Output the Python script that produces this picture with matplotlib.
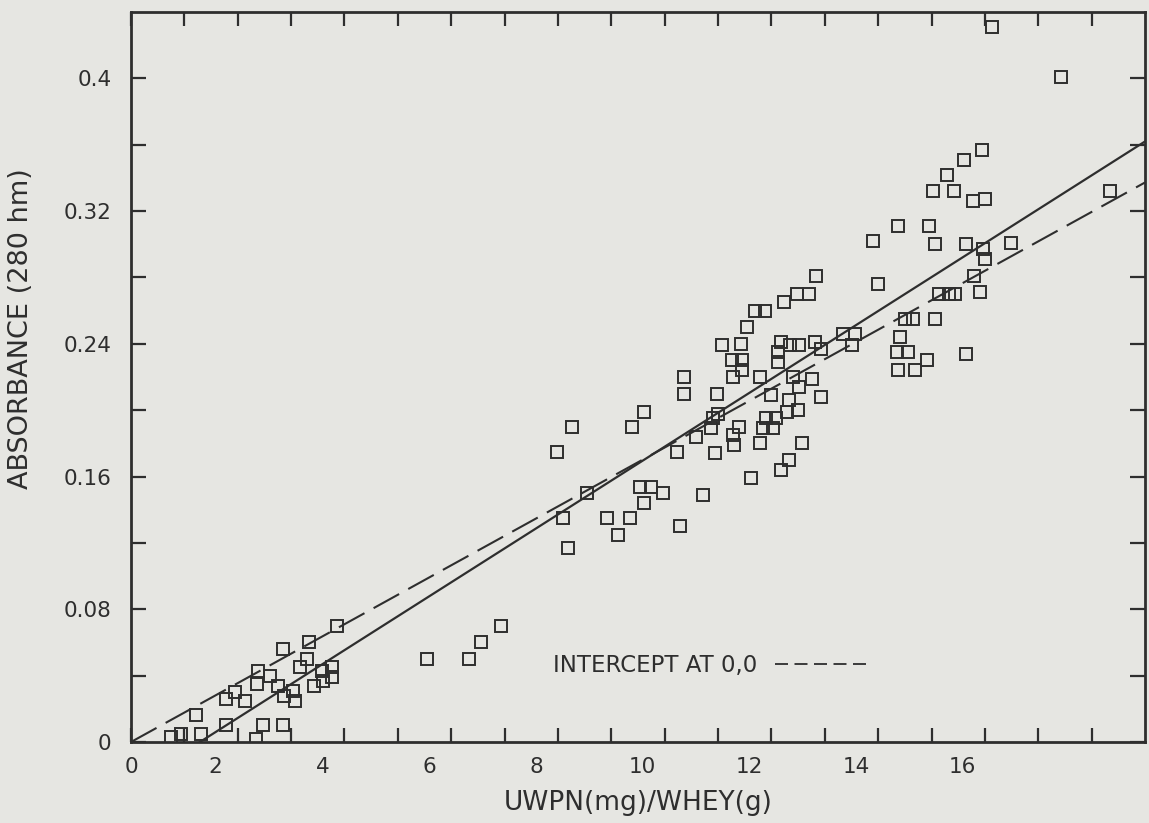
import numpy as np
import matplotlib
matplotlib.use('Agg')
import matplotlib.pyplot as plt
from matplotlib.lines import Line2D
from matplotlib.transforms import ScaledTranslation

# points: UWPN(mg)/WHEY(g) against absorbance at 280
uwpn = [16.13, 17.43, 15.95, 15.61, 15.29, 15.03, 15.42, 15.78, 16.00, 18.34,
        14.37, 14.95, 13.90, 15.06, 15.65, 15.96, 16.49, 16.00, 12.83, 14.00,
        15.80, 12.48, 12.70, 12.24, 15.14, 15.33, 15.44, 15.91,
        11.69, 11.88, 11.54, 11.07, 11.43, 12.18, 12.35, 12.52, 12.82, 12.93,
        13.34, 13.57, 13.51, 14.50, 14.65, 15.06, 14.41, 14.35, 14.56, 14.91,
        15.65, 14.37, 14.69, 12.12, 12.12, 11.26, 11.45, 11.45, 11.28, 11.79,
        10.36, 10.36, 10.98, 12.40, 12.76, 12.52, 11.99, 12.93, 12.33, 12.29,
        12.50, 9.61, 11.00, 10.90, 11.90, 12.09, 11.84, 12.03, 10.87, 8.26,
        9.39, 11.39, 11.28, 11.30, 11.79, 12.57, 10.59, 7.98, 10.23, 10.94,
        12.33, 12.18, 11.62, 9.54, 9.74, 9.61, 9.97, 10.72, 8.54, 8.09,
        8.92, 9.35, 9.12, 10.29, 8.19,
        5.55, 6.33, 6.56, 6.93, 3.86, 3.34, 2.85, 3.30, 3.17, 2.38,
        2.60, 2.36, 2.75, 3.58, 3.77, 3.77, 3.60, 3.43, 3.04, 2.87,
        3.07, 1.95, 1.78, 2.14, 1.22, 1.78, 2.47, 2.85, 0.75, 0.94,
        1.31, 2.34]
absorbance = [0.431, 0.401, 0.357, 0.351, 0.342, 0.332, 0.332, 0.326, 0.327, 0.332,
              0.311, 0.311, 0.302, 0.300, 0.300, 0.297, 0.301, 0.291, 0.281, 0.276,
              0.281, 0.270, 0.270, 0.265, 0.270, 0.270, 0.270, 0.271,
              0.260, 0.260, 0.250, 0.239, 0.240, 0.241, 0.239, 0.239, 0.241, 0.237,
              0.246, 0.246, 0.239, 0.255, 0.255, 0.255, 0.244, 0.235, 0.235, 0.230,
              0.234, 0.224, 0.224, 0.235, 0.229, 0.230, 0.230, 0.224, 0.220, 0.220,
              0.220, 0.210, 0.210, 0.220, 0.219, 0.214, 0.209, 0.208, 0.206, 0.199,
              0.200, 0.199, 0.198, 0.195, 0.195, 0.195, 0.189, 0.189, 0.189, 0.190,
              0.190, 0.190, 0.185, 0.179, 0.180, 0.180, 0.184, 0.175, 0.175, 0.174,
              0.170, 0.164, 0.159, 0.154, 0.154, 0.144, 0.150, 0.149, 0.150, 0.135,
              0.135, 0.135, 0.125, 0.130, 0.117,
              0.050, 0.050, 0.060, 0.070, 0.070, 0.060, 0.056, 0.050, 0.045, 0.043,
              0.040, 0.035, 0.034, 0.043, 0.045, 0.039, 0.037, 0.034, 0.031, 0.028,
              0.025, 0.030, 0.026, 0.025, 0.016, 0.010, 0.010, 0.010, 0.003, 0.005,
              0.005, 0.002]

# the two fitted lines as drawn on the original
fitSlope = 0.02044       # free intercept fit
fitIntercept = -0.0264
originSlope = 0.01775    # fit forced through 0,0

xTicks = list(range(0, 19))
xTickLabels = [str(t) if t % 2 == 0 and t <= 16 else '' for t in xTicks]
yTicks = [round(0.04 * i, 2) for i in range(11)]
yTickLabels = ['0', '', '0.08', '', '0.16', '', '0.24', '', '0.32', '', '0.4']

paper = '#e6e6e2'
ink = '#2e2e2e'


def main():
    plt.rcParams['font.family'] = ['DejaVu Sans']
    fig = plt.figure(figsize=(11.49, 8.23), dpi=100, facecolor=paper)
    ax = fig.add_axes([0.114, 0.0984, 0.8825, 0.887], facecolor=paper)

    ax.plot(uwpn, absorbance, 's', mfc='none', mec=ink, ms=8.5, mew=1.4, zorder=3)
    ax.axline((0, fitIntercept), slope=fitSlope, color=ink, lw=1.6)
    ax.axline((0, 0), slope=originSlope, color=ink, lw=1.5, ls=(0, (14, 5)))

    ax.set_xlim(0, 19)
    ax.set_ylim(0, 0.44)
    ax.set_xticks(xTicks, xTickLabels)
    ax.set_yticks(yTicks, yTickLabels)
    ax.tick_params(axis='both', direction='in', top=True, right=True, colors=ink,
                   labelsize=15.5, width=1.6)
    ax.tick_params(axis='x', length=10, pad=11)
    ax.tick_params(axis='y', length=11, pad=14)
    for s in ax.spines.values():
        s.set_linewidth(2.0)
        s.set_color(ink)

    # x labels on the original sit a little left of their ticks
    shift = ScaledTranslation(-0.22, 0, fig.dpi_scale_trans)
    for lab in ax.get_xticklabels()[1:]:
        lab.set_transform(lab.get_transform() + shift)

    ax.set_xlabel('UWPN(mg)/WHEY(g)', fontsize=19, color=ink, labelpad=9)
    ax.set_ylabel('ABSORBANCE (280 hm)', fontsize=19.5, color=ink)
    ax.yaxis.set_label_coords(-0.096, 0.566)

    key = Line2D([], [], color=ink, lw=1.3, ls=(0, (7.2, 3.6)))
    ax.legend([key], ['INTERCEPT AT 0,0'], loc='center left', bbox_to_anchor=(0.416, 0.105),
              markerfirst=False, frameon=False, fontsize=16.5, handlelength=4.2,
              handletextpad=0.8, borderpad=0, borderaxespad=0, labelcolor=ink)

    fig.savefig('out.png', dpi=100, facecolor=paper)


if __name__ == '__main__':
    main()
